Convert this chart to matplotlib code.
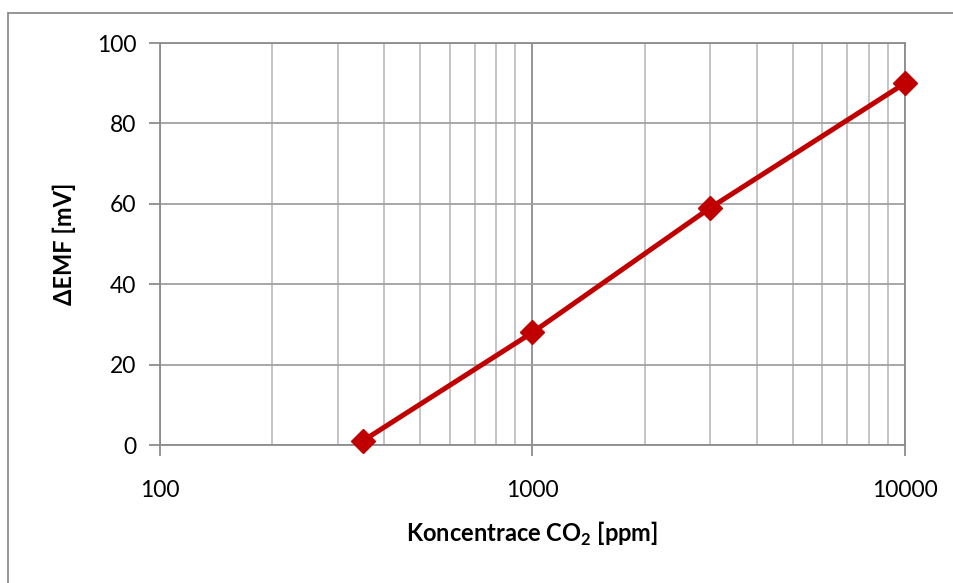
import numpy as np
import matplotlib.pyplot as plt
from matplotlib.patches import Rectangle
from matplotlib.ticker import FixedLocator, NullFormatter

# data
konc = [350, 1000, 3000, 10000]
emf = [1, 28, 59, 90]
y_ticks = [0, 20, 40, 60, 80, 100]
x_ticks = [100, 1000, 10000]

plt.rcParams['font.family'] = ['Lato', 'DejaVu Sans']

fig = plt.figure(figsize=(9.54, 5.83), dpi=100)
ax = fig.add_axes([160/954, 1 - 445/583, 745/954, 402/583])

# outer chart border (left and top visible only)
top = 1 - 13/583
fig.patches.append(Rectangle((8/954, -0.1), 2, top + 0.1,
                             transform=fig.transFigure, fill=False,
                             edgecolor='#8c8c8c', linewidth=1.3))

ax.set_xscale('log')
ax.set_xlim(100, 10000)
ax.set_ylim(0, 100)

minors = [m * d for d in (100, 1000) for m in range(2, 10)]
ax.xaxis.set_major_locator(FixedLocator(x_ticks))
ax.xaxis.set_minor_locator(FixedLocator(minors))
ax.xaxis.set_minor_formatter(NullFormatter())
ax.set_xticklabels([str(t) for t in x_ticks])
ax.set_yticks(y_ticks)

ax.grid(True, which='major', axis='y', color='#a0a0a0', linewidth=1.3)
ax.grid(True, which='major', axis='x', color='#8c8c8c', linewidth=1.3)
ax.grid(True, which='minor', axis='x', color='#bfbfbf', linewidth=1.3)
ax.set_axisbelow(True)

for s in ['left', 'bottom', 'right', 'top']:
    ax.spines[s].set_color('#8c8c8c')
    ax.spines[s].set_linewidth(1.3)

ax.tick_params(axis='both', which='major', length=8, width=1.3, color='#8c8c8c',
               labelsize=16.5)
ax.tick_params(axis='x', which='major', pad=17)
ax.tick_params(axis='x', which='minor', length=0)
ax.tick_params(axis='y', pad=9)

ax.plot(konc, emf, color='#c00000', linewidth=3.6, marker='D', markersize=12.5,
        clip_on=False, zorder=5)

ax.set_xlabel('Koncentrace CO$_\\mathregular{2}$ [ppm]', fontsize=17,
              fontweight='bold', labelpad=14)
ax.set_ylabel('ΔEMF [mV]', fontsize=17, fontweight='bold', labelpad=15)

fig.savefig('out.png', dpi=100)
